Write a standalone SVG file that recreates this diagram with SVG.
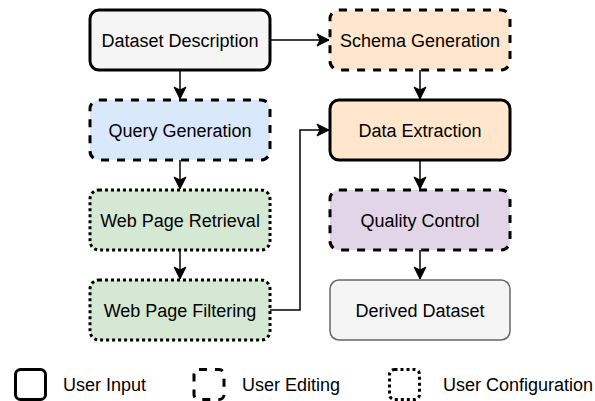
<svg xmlns="http://www.w3.org/2000/svg" width="595" height="401" viewBox="0 0 595 401">
  <style>
    .box { stroke: #000; stroke-width: 3; }
    .solid { }
    .dashed { stroke-dasharray: 8 8; }
    .dotted { stroke-dasharray: 3 3; }
    .gray { fill: #f5f5f5; }
    .blue { fill: #dae8fc; }
    .green { fill: #d5e8d4; }
    .orange { fill: #ffe6cc; }
    .purple { fill: #e1d5e7; }
    .output { fill: #f5f5f5; stroke: #666; stroke-width: 1.5; }
    .label { font-family: "Liberation Sans", Arial, sans-serif; font-size: 18px; fill: #000; text-anchor: middle; }
    .legend-label { font-family: "Liberation Sans", Arial, sans-serif; font-size: 18px; fill: #000; }
    .edge { fill: none; stroke: #000; stroke-width: 1.5; marker-end: url(#arrow); }
  </style>
  <defs>
    <marker id="arrow" markerUnits="userSpaceOnUse" markerWidth="14" markerHeight="14" viewBox="-13 -7 14 14" refX="0" refY="0" orient="auto">
      <path d="M0,0 L-12,-6 L-9,0 L-12,6 Z" fill="#000" stroke="#000" stroke-width="1"/>
    </marker>
  </defs>

  <!-- connectors -->
  <g id="connectors">
    <path class="edge" d="M270,40 L329,40"/>
    <path class="edge" d="M180,70 L180,99"/>
    <path class="edge" d="M180,160 L180,189"/>
    <path class="edge" d="M180,250 L180,279"/>
    <path class="edge" d="M420,70 L420,99"/>
    <path class="edge" d="M420,160 L420,189"/>
    <path class="edge" d="M420,250 L420,279"/>
    <path class="edge" d="M270,310 L300,310 L300,130 L329,130"/>
  </g>

  <!-- left column -->
  <g id="dataset-description">
    <rect class="box solid gray" x="90" y="10" width="180" height="60" rx="9"/>
    <text class="label" x="180" y="46.5">Dataset Description</text>
  </g>
  <g id="query-generation">
    <rect class="box dashed blue" x="90" y="100" width="180" height="60" rx="9"/>
    <text class="label" x="180" y="136.5">Query Generation</text>
  </g>
  <g id="web-page-retrieval">
    <rect class="box dotted green" x="90" y="190" width="180" height="60" rx="9"/>
    <text class="label" x="180" y="226.5">Web Page Retrieval</text>
  </g>
  <g id="web-page-filtering">
    <rect class="box dotted green" x="90" y="280" width="180" height="60" rx="9"/>
    <text class="label" x="180" y="316.5">Web Page Filtering</text>
  </g>

  <!-- right column -->
  <g id="schema-generation">
    <rect class="box dashed orange" x="330" y="10" width="180" height="60" rx="9"/>
    <text class="label" x="420" y="46.5">Schema Generation</text>
  </g>
  <g id="data-extraction">
    <rect class="box solid orange" x="330" y="100" width="180" height="60" rx="9"/>
    <text class="label" x="420" y="136.5">Data Extraction</text>
  </g>
  <g id="quality-control">
    <rect class="box dashed purple" x="330" y="190" width="180" height="60" rx="9"/>
    <text class="label" x="420" y="226.5">Quality Control</text>
  </g>
  <g id="derived-dataset">
    <rect class="output" x="330" y="280" width="180" height="60" rx="9"/>
    <text class="label" x="420" y="316.5">Derived Dataset</text>
  </g>

  <!-- legend -->
  <g id="legend-user-input">
    <rect class="box solid" fill="none" x="15.5" y="369.5" width="30" height="30" rx="5"/>
    <text class="legend-label" x="63" y="391">User Input</text>
  </g>
  <g id="legend-user-editing">
    <rect class="box dashed" fill="none" x="194" y="369.5" width="30" height="30" rx="5"/>
    <text class="legend-label" x="242" y="391">User Editing</text>
  </g>
  <g id="legend-user-configuration">
    <rect class="box dotted" fill="none" x="389.5" y="369.5" width="30" height="30" rx="5"/>
    <text class="legend-label" x="443" y="391">User Configuration</text>
  </g>
</svg>
